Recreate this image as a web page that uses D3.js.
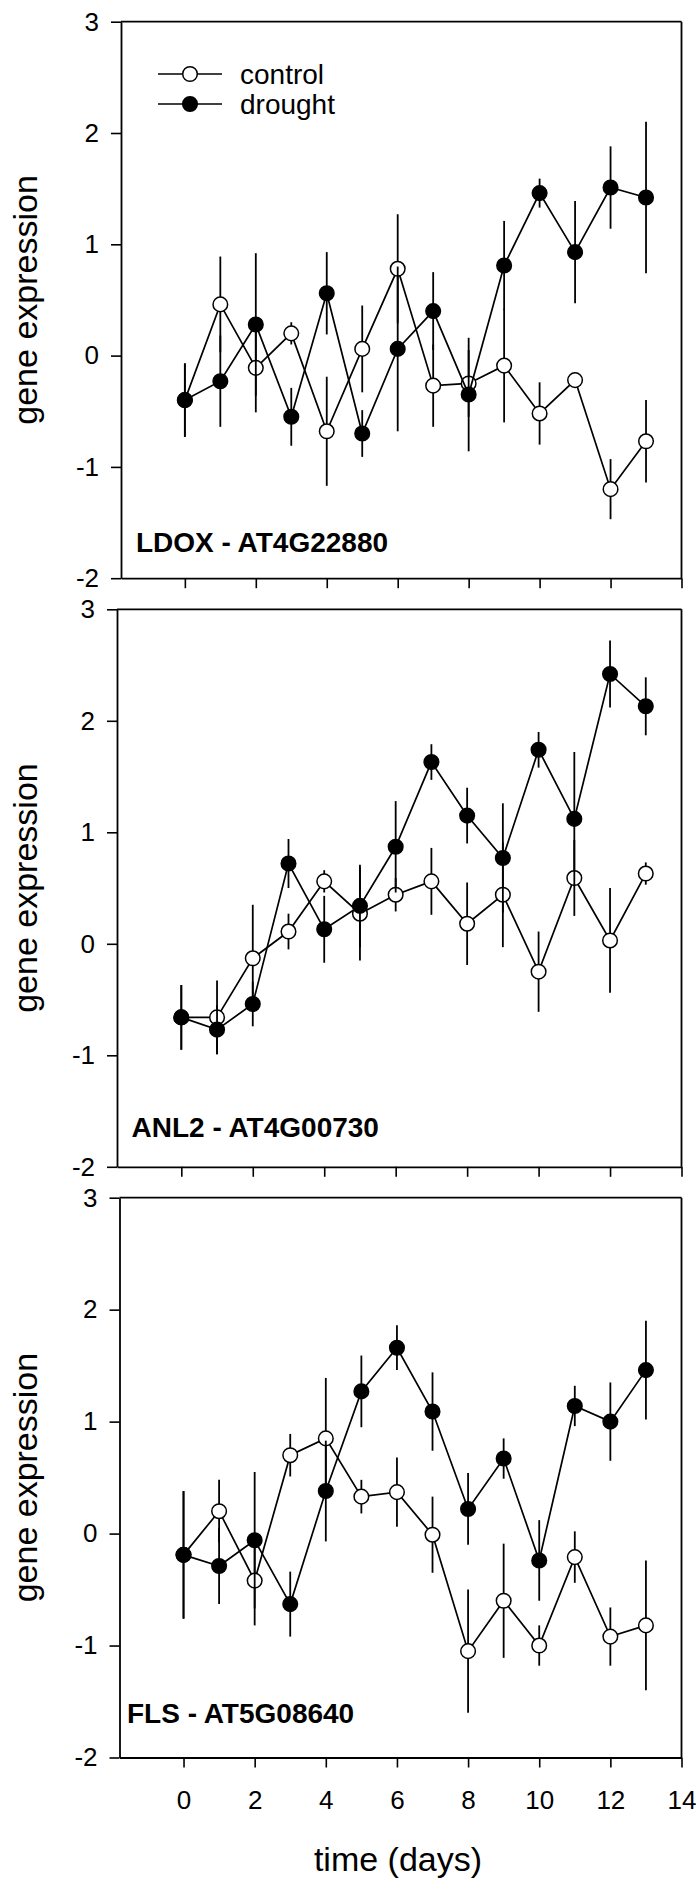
<!DOCTYPE html>
<html><head><meta charset="utf-8">
<script src="https://cdn.jsdelivr.net/npm/d3@7"></script>
<style>
body{margin:0;background:#fff}
svg{display:block}
text{font-family:Arial,"Liberation Sans",Helvetica,sans-serif;fill:#000}
</style>
</head><body>
<svg id="chart" width="696" height="1881"></svg>
<script>
// ---- data ----
const days = [0,1,2,3,4,5,6,7,8,9,10,11,12,13];
const xTickValues = [0,2,4,6,8,10,12,14];
const yTickValues = [-2,-1,0,1,2,3];
const seriesNames = ["control","drought"];
const panelTitles = ["LDOX - AT4G22880","ANL2 - AT4G00730","FLS - AT5G08640"];

const ldoxControl    = [-0.40, 0.46,-0.11, 0.20,-0.68, 0.06, 0.78,-0.27,-0.25,-0.09,-0.52,-0.22,-1.20,-0.77];
const ldoxControlErr = [ 0.33, 0.43, 0.40, 0.10, 0.49, 0.39, 0.49, 0.37, 0.30, 0.51, 0.28, 0.05, 0.27, 0.37];
const ldoxDrought    = [-0.40,-0.23, 0.28,-0.55, 0.56,-0.70, 0.06, 0.40,-0.35, 0.81, 1.46, 0.93, 1.51, 1.42];
const ldoxDroughtErr = [ 0.33, 0.41, 0.64, 0.26, 0.37, 0.21, 0.74, 0.35, 0.51, 0.40, 0.13, 0.46, 0.37, 0.68];

const anl2Control    = [-0.66,-0.66,-0.13, 0.11, 0.56, 0.27, 0.44, 0.56, 0.18, 0.44,-0.25, 0.59, 0.03, 0.63];
const anl2ControlErr = [ 0.29, 0.33, 0.48, 0.16, 0.10, 0.42, 0.15, 0.30, 0.37, 0.47, 0.36, 0.34, 0.47, 0.10];
const anl2Drought    = [-0.66,-0.77,-0.54, 0.72, 0.13, 0.34, 0.87, 1.63, 1.15, 0.77, 1.74, 1.12, 2.42, 2.13];
const anl2DroughtErr = [ 0.29, 0.22, 0.20, 0.22, 0.30, 0.37, 0.41, 0.16, 0.25, 0.49, 0.16, 0.60, 0.30, 0.26];

const flsControl     = [-0.19, 0.20,-0.42, 0.70, 0.85, 0.33, 0.37,-0.01,-1.05,-0.60,-1.00,-0.21,-0.92,-0.82];
const flsControlErr  = [ 0.57, 0.28, 0.40, 0.19, 0.54, 0.15, 0.31, 0.34, 0.55, 0.51, 0.18, 0.23, 0.26, 0.58];
const flsDrought     = [-0.19,-0.29,-0.06,-0.63, 0.38, 1.27, 1.66, 1.09, 0.22, 0.67,-0.24, 1.14, 1.00, 1.46];
const flsDroughtErr  = [ 0.57, 0.34, 0.61, 0.29, 0.45, 0.32, 0.20, 0.35, 0.32, 0.18, 0.36, 0.18, 0.35, 0.44];

// ---- layout ----
const layout = [
  {left:121,   top:21.7,   bottom:578.2,  titleX:136,   titleY:551.7,  legend:true,  xLabels:false},
  {left:117,   top:609.3,  bottom:1166.8, titleX:131.5, titleY:1137.3, legend:false, xLabels:false},
  {left:119.5, top:1197.7, bottom:1757.5, titleX:127,   titleY:1722.7, legend:false, xLabels:true}
];
const right = 681.5;
const data = [
  [ldoxControl, ldoxControlErr, ldoxDrought, ldoxDroughtErr],
  [anl2Control, anl2ControlErr, anl2Drought, anl2DroughtErr],
  [flsControl,  flsControlErr,  flsDrought,  flsDroughtErr]
];
const R = 7.3;
const fills = {control:"#fff", drought:"#000"};
const fmt = d => String(d); // plain hyphen-minus like the original

const svg = d3.select("#chart");

layout.forEach((L, pi) => {
  const x = d3.scaleLinear().domain([-1.8, 14]).range([L.left, right]);
  const y = d3.scaleLinear().domain([-2, 3]).range([L.bottom, L.top]);
  const g = svg.append("g");

  // frame: top and right
  g.append("line").attr("x1", L.left).attr("x2", right).attr("y1", L.top).attr("y2", L.top)
    .attr("stroke","#000").attr("stroke-width",1.8);
  g.append("line").attr("x1", right).attr("x2", right).attr("y1", L.top).attr("y2", L.bottom)
    .attr("stroke","#000").attr("stroke-width",1.8);

  // y axis
  const ya = g.append("g").attr("transform", `translate(${L.left},0)`)
    .call(d3.axisLeft(y).tickValues(yTickValues).tickSize(10).tickSizeOuter(0).tickPadding(12)
      .tickFormat(fmt));
  // x axis
  const xa = g.append("g").attr("transform", `translate(0,${L.bottom})`)
    .call(d3.axisBottom(x).tickValues(xTickValues).tickSize(10).tickSizeOuter(0).tickPadding(23.5)
      .tickFormat(L.xLabels ? fmt : () => ""));
  [ya, xa].forEach(a => {
    a.select(".domain").attr("stroke","#000").attr("stroke-width",1.8);
    a.selectAll(".tick line").attr("stroke","#000").attr("stroke-width",1.6);
    a.selectAll(".tick text").attr("font-size",26).attr("font-family","Arial, 'Liberation Sans', sans-serif").attr("fill","#000");
  });

  // y label
  g.append("text").attr("transform", `translate(37,${(L.top + L.bottom) / 2}) rotate(-90)`)
    .attr("text-anchor","middle").attr("font-size",34).text("gene expression");

  // panel title
  g.append("text").attr("x", L.titleX).attr("y", L.titleY).attr("font-size",28)
    .attr("font-weight","bold").text(panelTitles[pi]);

  const [cV, cE, dV, dE] = data[pi];
  const series = [
    {name:"control", v:cV, e:cE},
    {name:"drought", v:dV, e:dE}
  ];
  const line = d3.line().x((d,i) => x(days[i])).y(d => y(d));

  series.forEach(s => {
    const sg = g.append("g");
    sg.append("path").attr("d", line(s.v)).attr("fill","none").attr("stroke","#000").attr("stroke-width",1.7);
    sg.selectAll("line.err").data(s.v).enter().append("line").attr("class","err")
      .attr("x1",(d,i)=>x(days[i])).attr("x2",(d,i)=>x(days[i]))
      .attr("y1",(d,i)=>y(d + s.e[i])).attr("y2",(d,i)=>y(d - s.e[i]))
      .attr("stroke","#000").attr("stroke-width",1.8);
    sg.selectAll("circle").data(s.v).enter().append("circle")
      .attr("cx",(d,i)=>x(days[i])).attr("cy", d=>y(d)).attr("r", R)
      .attr("fill", fills[s.name]).attr("stroke","#000").attr("stroke-width",1.5);
  });

  if (L.legend) {
    const lg = g.append("g");
    const rows = [{name:seriesNames[0], y:74}, {name:seriesNames[1], y:104}];
    rows.forEach(r => {
      lg.append("line").attr("x1",158).attr("x2",222).attr("y1",r.y).attr("y2",r.y)
        .attr("stroke","#000").attr("stroke-width",1.7);
      lg.append("circle").attr("cx",190).attr("cy",r.y).attr("r",R)
        .attr("fill",fills[r.name]).attr("stroke","#000").attr("stroke-width",1.5);
      lg.append("text").attr("x",240).attr("y",r.y).attr("dy","0.35em").attr("font-size",28).text(r.name);
    });
  }
});

// x label
svg.append("text").attr("x",398).attr("y",1871).attr("text-anchor","middle").attr("font-size",34).text("time (days)");
</script>
</body></html>
